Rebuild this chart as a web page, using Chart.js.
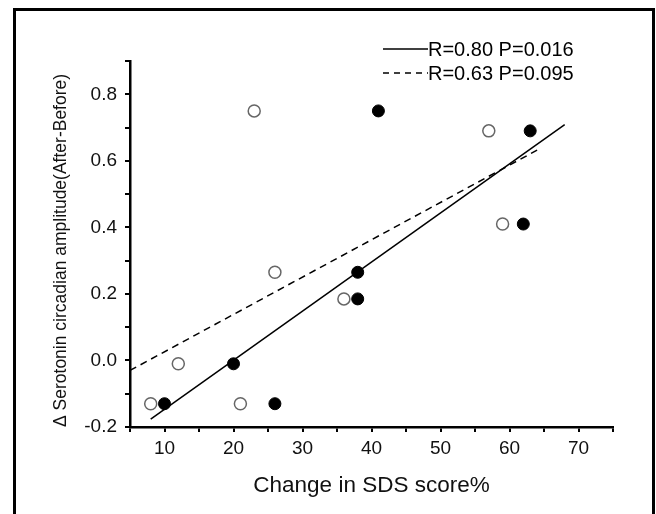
<!DOCTYPE html>
<html><head><meta charset="utf-8">
<script src="https://cdn.jsdelivr.net/npm/chart.js@4"></script>
<style>
html,body{margin:0;padding:0;background:#fff;overflow:hidden;width:656px;height:514px}
#cadre{position:absolute;left:13px;top:8px;width:636px;height:530px;border:3px solid #000}
#zone{position:absolute;left:0;top:0;width:656px;height:514px}
</style></head><body>
<div id="cadre"></div>
<div id="zone"><canvas id="graph" width="656" height="514"></canvas></div>
<script>
/* ---- données ---- */
const sdsOuvert  = [8, 12, 21, 23, 26, 36, 57, 59];
const ampOuvert  = [-0.13, -0.01, -0.13, 0.75, 0.265, 0.185, 0.69, 0.41];
const sdsPlein   = [10, 20, 26, 38, 38, 41, 62, 63];
const ampPlein   = [-0.13, -0.01, -0.13, 0.265, 0.185, 0.75, 0.41, 0.69];
/* droites de régression : extrémités */
const droiteX    = [8, 68];
const droiteY    = [-0.176, 0.709];
const tiretsX    = [5, 64];
const tiretsY    = [-0.03, 0.632];
const legendes   = ['R=0.80 P=0.016', 'R=0.63 P=0.095'];
const titreX     = 'Change in SDS score%';
const titreY     = 'Δ Serotonin circadian amplitude(After-Before)';

const police = 'Arial, "Liberation Sans", sans-serif';
const pts = (xs, ys) => xs.map((x,i)=>({x, y:ys[i]}));

/* légende maison : trait + texte collé, en haut à droite */
const legendeReg = {
  id:'legendeReg',
  afterDraw(chart){
    const c = chart.ctx;
    c.save();
    c.font = '20px ' + police; c.fillStyle = '#000'; c.textBaseline = 'middle';
    legendes.forEach((t,i)=>{
      const y = 49 + i*24;
      c.beginPath(); c.lineWidth = 1.5; c.strokeStyle = '#000';
      c.setLineDash(i ? [6,5] : []);
      c.moveTo(383, y); c.lineTo(428, y); c.stroke();
      c.setLineDash([]);
      c.fillText(t, 428, y+1);
    });
    c.restore();
  }
};

const axe = {
  border:{color:'#000', width:2.5},
  grid:{drawOnChartArea:false, drawTicks:true, tickLength:5, color:'#000', lineWidth:2}
};

new Chart(document.getElementById('graph'), {
  type:'scatter',
  data:{datasets:[
    {label:'plein', data:pts(sdsPlein, ampPlein), pointRadius:6, pointHoverRadius:6,
     backgroundColor:'#000', borderColor:'#000', borderWidth:1, order:1},
    {label:'ouvert', data:pts(sdsOuvert, ampOuvert), pointRadius:6, pointHoverRadius:6,
     backgroundColor:'#fff', borderColor:'#666', borderWidth:1.5, order:1},
    {label:'droite', data:pts(droiteX, droiteY), showLine:true, pointRadius:0,
     borderColor:'#000', borderWidth:1.5, order:2},
    {label:'tirets', data:pts(tiretsX, tiretsY), showLine:true, pointRadius:0,
     borderColor:'#000', borderWidth:1.5, borderDash:[7,5], order:2}
  ]},
  options:{
    responsive:false, animation:false,
    layout:{padding:{left:0, top:61, right:43, bottom:0}},
    plugins:{legend:{display:false}, tooltip:{enabled:false}},
    scales:{
      x:{...axe, type:'linear', min:5, max:75,
        afterFit(s){ s.height = 87; },
        ticks:{stepSize:5, autoSkip:false, maxRotation:0, padding:5, color:'#111',
          font:{family:police, size:19}, callback:v => v%10===0 ? String(v) : ''},
        title:{display:true, text:titreX, color:'#111', font:{family:police, size:22.5},
          padding:{top:0, bottom:15}}
      },
      y:{...axe, type:'linear', min:-0.2, max:0.9,
        afterFit(s){ s.width = 130; },
        ticks:{stepSize:0.1, autoSkip:false, includeBounds:false, padding:8, color:'#111',
          font:{family:police, size:19},
          callback:v => Math.round(v*10)%2===0 ? v.toFixed(1) : ''},
        title:{display:true, text:titreY, align:'start', color:'#111',
          font:{family:police, size:17.5}, padding:{top:51, bottom:0}}
      }
    }
  },
  plugins:[legendeReg]
});
</script>
</body></html>
